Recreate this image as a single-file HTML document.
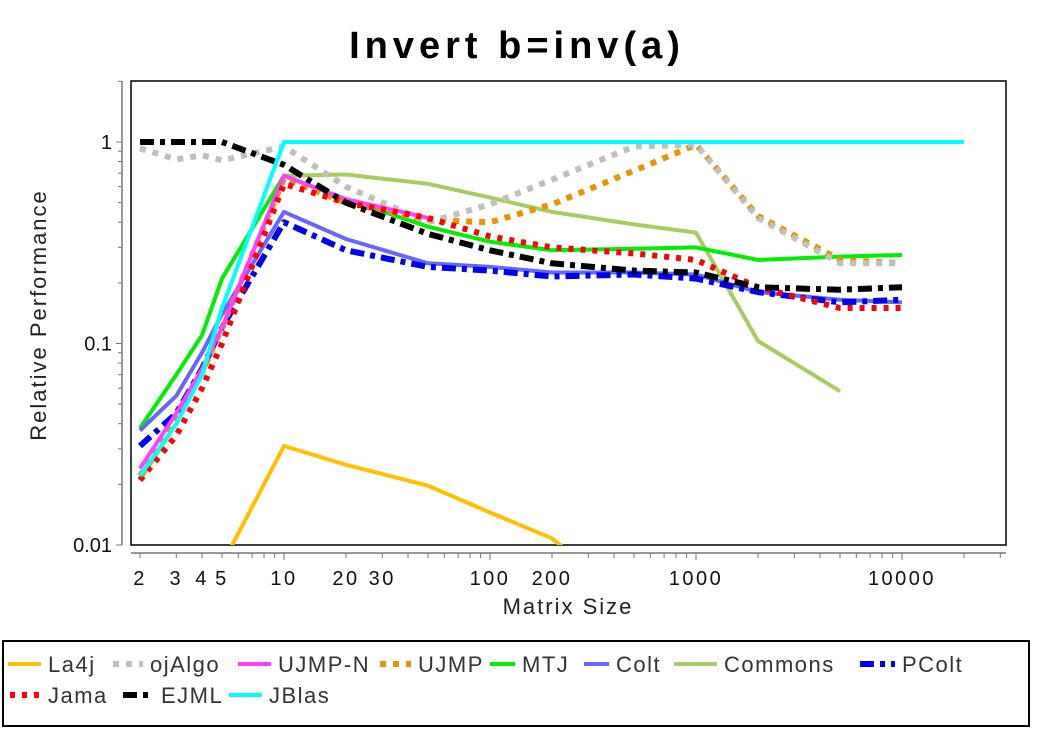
<!DOCTYPE html>
<html><head><meta charset="utf-8"><style>
body{margin:0;background:#fff;}
svg text{font-family:"Liberation Sans",sans-serif;}
</style></head><body>
<svg id="chart" width="1042" height="730" xmlns="http://www.w3.org/2000/svg">
<text x="517" y="58" text-anchor="middle" font-size="38" font-weight="bold" letter-spacing="5" fill="#000">Invert b=inv(a)</text>
<rect x="131" y="81" width="875" height="464" fill="none" stroke="#000" stroke-width="1.5"/>
<g id="yaxis"></g>
<g id="xaxis"></g>
<text transform="translate(46,315) rotate(-90)" text-anchor="middle" font-size="22" letter-spacing="2" fill="#222">Relative Performance</text>
<text x="568" y="614" text-anchor="middle" font-size="22" letter-spacing="2" fill="#222">Matrix Size</text>
<defs><clipPath id="clip"><rect x="131" y="81" width="875" height="464"/></clipPath></defs>
<g id="series" clip-path="url(#clip)"></g>
<rect x="3" y="641" width="1026" height="85" fill="none" stroke="#000" stroke-width="2"/>
<g id="legend"></g>
</svg>
<script>
const xTickLabels=[2,3,4,5,10,20,30,100,200,1000,10000];
const yTickLabels=[0.01,0.1,1];
const seriesNames=["La4j","ojAlgo","UJMP-N","UJMP","MTJ","Colt","Commons","PColt","Jama","EJML","JBlas"];
const sizesLa4j=[5,10,20,50,100,200,500];
const valsLa4j=[0.008,0.031,0.025,0.0197,0.0145,0.0108,0.005];
const sizesFull=[2,3,4,5,10,20,50,100,200,500,1000,2000,5000,10000];
const valsOjAlgo=[0.93,0.82,0.86,0.81,0.95,0.6,0.4,0.49,0.65,0.95,0.97,0.42,0.25,0.25];
const sizesUjmpN=[2,3,4,5,10,20,50];
const valsUjmpN=[0.024,0.045,0.075,0.12,0.68,0.52,0.42];
const valsUjmp=[0.022,0.042,0.072,0.12,0.66,0.5,0.41,0.4,0.49,0.72,0.97,0.43,0.26,0.25];
const valsMTJ=[0.038,0.07,0.11,0.21,0.68,0.52,0.38,0.32,0.29,0.295,0.30,0.26,0.27,0.275];
const valsColt=[0.037,0.055,0.09,0.14,0.45,0.33,0.25,0.24,0.225,0.225,0.22,0.18,0.165,0.16];
const sizesCommons=[2,3,4,5,10,20,50,100,200,500,1000,2000,5000];
const valsCommons=[0.021,0.04,0.07,0.12,0.68,0.69,0.62,0.53,0.45,0.39,0.355,0.103,0.058];
const valsPColt=[0.031,0.045,0.075,0.12,0.4,0.29,0.24,0.23,0.215,0.22,0.21,0.18,0.16,0.165];
const valsJama=[0.021,0.035,0.06,0.1,0.62,0.5,0.42,0.34,0.3,0.28,0.26,0.19,0.15,0.15];
const valsEJML=[1.0,1.0,1.0,1.0,0.77,0.5,0.35,0.29,0.25,0.23,0.225,0.19,0.185,0.19];
const sizesJBlas=[2,3,4,5,10,20,50,100,200,500,1000,2000,5000,10000,20000];
const valsJBlas=[0.022,0.04,0.07,0.15,1,1,1,1,1,1,1,1,1,1,1];

const NS="http://www.w3.org/2000/svg";
function xS(v){return 78+206*Math.log10(v);}
function yS(v){return 142-201.5*Math.log10(v);}
function mk(tag,attrs,parent){const e=document.createElementNS(NS,tag);for(const k in attrs)e.setAttribute(k,attrs[k]);parent.appendChild(e);return e;}

const ya=document.getElementById('yaxis');
let l=mk('line',{x1:122,y1:81,x2:122,y2:545,stroke:'#777','stroke-width':1.5},ya);


for(let d=-2;d<=0;d++){for(let m=1;m<=9;m++){const v=m*Math.pow(10,d);const y=yS(v);if(y<81)continue;
 const t=mk('line',{x1:m===1?116:118,y1:y,x2:122,y2:y,stroke:'#777','stroke-width':1},ya);
 
 }}
yTickLabels.forEach(v=>{const t=mk('text',{x:112,y:yS(v)+7,'text-anchor':'end','font-size':20,fill:'#111'},ya);t.textContent=String(v);
 
 });

const xa=document.getElementById('xaxis');
l=mk('line',{x1:131,y1:553,x2:1006,y2:553,stroke:'#777','stroke-width':1.5},xa);


for(let d=0;d<=4;d++){for(let m=1;m<=9;m++){const v=m*Math.pow(10,d);const x=xS(v);if(x<131||x>1006)continue;
 const t=mk('line',{x1:x,y1:553,x2:x,y2:m===1?560:558,stroke:'#777','stroke-width':1},xa);
 
 }}
xTickLabels.forEach(v=>{const t=mk('text',{x:xS(v),y:585,'text-anchor':'middle','font-size':20,'letter-spacing':2.5,fill:'#111'},xa);t.textContent=String(v);
 
 });

const styles={
 "La4j":{c:"#ffc000",w:4,d:""},
 "ojAlgo":{c:"#c0c0c0",w:6,d:"6 7"},
 "UJMP-N":{c:"#ff40ff",w:4,d:""},
 "UJMP":{c:"#e69500",w:6,d:"6 7"},
 "MTJ":{c:"#00ee00",w:4,d:""},
 "Colt":{c:"#6666ff",w:4,d:""},
 "Commons":{c:"#a8cc60",w:4,d:""},
 "PColt":{c:"#0000ee",w:6,d:"14 6 5 6"},
 "Jama":{c:"#ff0000",w:6,d:"5 7"},
 "EJML":{c:"#000000",w:6,d:"14 6 5 6"},
 "JBlas":{c:"#00ffff",w:4,d:""}};
const data={
 "La4j":[sizesLa4j,valsLa4j],"ojAlgo":[sizesFull,valsOjAlgo],"UJMP-N":[sizesUjmpN,valsUjmpN],
 "UJMP":[sizesFull,valsUjmp],"MTJ":[sizesFull,valsMTJ],"Colt":[sizesFull,valsColt],
 "Commons":[sizesCommons,valsCommons],"PColt":[sizesFull,valsPColt],"Jama":[sizesFull,valsJama],
 "EJML":[sizesFull,valsEJML],"JBlas":[sizesJBlas,valsJBlas]};
const drawOrder=["La4j","Commons","MTJ","Colt","PColt","UJMP","ojAlgo","UJMP-N","Jama","EJML","JBlas"];
const sg=document.getElementById('series');
drawOrder.forEach(n=>{const [xs,vs]=data[n];const s=styles[n];
 const pts=xs.map((x,i)=>xS(x).toFixed(1)+','+yS(vs[i]).toFixed(1)).join(' ');
 const p=mk('polyline',{points:pts,fill:'none',stroke:s.c,'stroke-width':s.w,'stroke-dasharray':s.d,'stroke-linejoin':'round'},sg);
 
 });

const lg=document.getElementById('legend');
const legPos=[[8,48,672],[113,150,672],[238,278,672],[380,418,672],[490,522,672],[584,616,672],[674,724,672],[860,902,672],[10,48,703],[123,161,703],[229,269,703]];
seriesNames.forEach((n,i)=>{const [lx,tx,ty]=legPos[i];const s=styles[n];
 const ln=mk('line',{x1:lx,y1:ty-8,x2:tx-7,y2:ty-8,stroke:s.c,'stroke-width':s.w,'stroke-dasharray':s.d},lg);
 
 
 const t=mk('text',{x:tx,y:ty,'font-size':22,'letter-spacing':1.5,fill:'#333'},lg);t.textContent=n;
 
 });
</script>
</body></html>
